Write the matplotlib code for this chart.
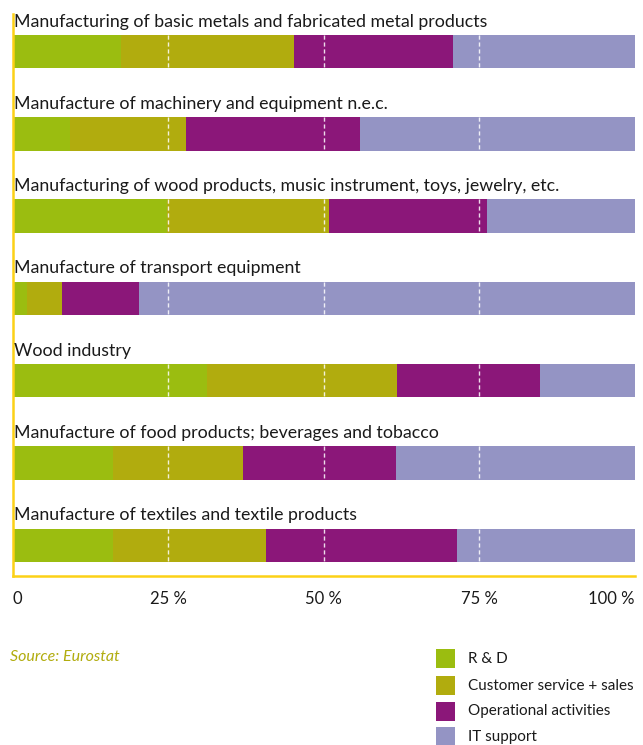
import matplotlib
matplotlib.use("Agg")
import matplotlib.pyplot as plt
from matplotlib.patches import Rectangle

# share of each activity per industry, in %
industries = [
    "Manufacturing of basic metals and fabricated metal products",
    "Manufacture of machinery and equipment n.e.c.",
    "Manufacturing of wood products, music instrument, toys, jewelry, etc.",
    "Manufacture of transport equipment",
    "Wood industry",
    "Manufacture of food products; beverages and tobacco",
    "Manufacture of textiles and textile products",
]
activities = ["R & D", "Customer service + sales", "Operational activities", "IT support"]
r_and_d = [17.5, 9.2, 24.8, 2.4, 31.2, 16.1, 16.1]
customer = [27.7, 18.6, 26.0, 5.6, 30.5, 20.9, 24.6]
operational = [25.5, 28.0, 25.4, 12.3, 23.0, 24.6, 30.7]
it_support = [29.3, 44.2, 23.8, 79.7, 15.3, 38.4, 28.6]
tick_vals = [0, 25, 50, 75, 100]
tick_labels = ["0", "25 %", "50 %", "75 %", "100 %"]

colors = ["#9bbd10", "#b1ac0e", "#8b1779", "#9494c4"]
axis_yellow = "#fcd116"
font = ["Lato", "DejaVu Sans"]

W, H = 643, 745
fig = plt.figure(figsize=(W / 100, H / 100), dpi=100)
ax_left, ax_right, ax_top, ax_bottom = 12.5, 635, 14, 576
ax = fig.add_axes([ax_left / W, 1 - ax_bottom / H,
                   (ax_right - ax_left) / W, (ax_bottom - ax_top) / H])

rows = list(range(len(industries)))
bar_h = 0.407
left = [0] * len(rows)
for vals, col in zip([r_and_d, customer, operational, it_support], colors):
    ax.barh(rows, vals, left=left, height=bar_h, color=col, linewidth=0, zorder=2)
    left = [a + b for a, b in zip(left, vals)]

# dashed guides across the bars
for x in tick_vals[1:-1]:
    for i in rows:
        ax.plot([x, x], [i - bar_h / 2, i + bar_h / 2], color="white", lw=1.0,
                ls=(0, (3, 2)), alpha=0.85, zorder=3)

for i, name in enumerate(industries):
    ax.text(0.2, i - bar_h / 2 - 0.1, name, ha="left", va="baseline",
            fontsize=12.8, family=font, color="#1a1a1a")

ax.set_xlim(0, 100)
ax.set_ylim(6.373, -0.456)
ax.set_yticks([])
ax.set_xticks(tick_vals)
ax.set_xticklabels(tick_labels, family=font, fontsize=12, color="#1a1a1a")
lbls = ax.get_xticklabels()
lbls[0].set_ha("left")
lbls[-1].set_ha("right")
ax.tick_params(axis="x", length=0, pad=11)
for s in ["top", "right"]:
    ax.spines[s].set_visible(False)
for s in ["left", "bottom"]:
    ax.spines[s].set_color(axis_yellow)
    ax.spines[s].set_linewidth(1.8)

# source note
fig.text(10 / W, 1 - 657 / H, "Source: Eurostat", ha="left", va="center",
         fontsize=11.5, style="italic", family=font, color="#b1ac0e")

# legend
row_y = [649, 675.5, 701.5, 727]
for name, col, y in zip(activities, colors, row_y):
    fig.add_artist(Rectangle((436 / W, 1 - (y + 19) / H), 19 / W, 19 / H,
                             transform=fig.transFigure, color=col, lw=0))
    fig.text(468 / W, 1 - (y + 10) / H, name, ha="left", va="center",
             fontsize=11, family=font, color="#1a1a1a")

fig.savefig("out.png", dpi=100)
